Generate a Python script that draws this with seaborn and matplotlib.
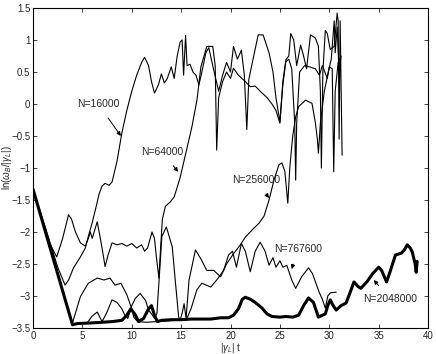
import pandas as pd
import numpy as np
import matplotlib
matplotlib.use("Agg")
import matplotlib.pyplot as plt
import seaborn as sns

# traced values, |gamma_L| t  vs  ln(omega_B/|gamma_L|)
t_16k = [0, 1.5, 2.5, 3.25, 3.6, 4.1, 4.8, 5.3, 5.6, 6.0, 6.4, 6.7, 7.0, 7.3, 7.7, 8.0, 8.5, 9.0, 9.5, 10.0,
         10.5, 11.0, 11.3, 11.7, 12.0, 12.3, 12.7, 13.0, 13.3, 13.6, 14.0, 14.3, 14.6, 14.9, 15.1, 15.25, 15.45,
         15.6, 15.9, 16.2, 16.5, 16.8, 17.1, 17.5, 17.8, 18.2, 18.5, 18.8, 19.2, 19.6, 20.0, 20.3, 20.7, 21.1,
         21.4, 21.65, 21.85, 22.2, 22.8, 23.3, 23.9, 24.3, 24.6, 25.0, 25.3, 25.6, 25.9, 26.1, 26.4, 26.7, 27.1,
         27.4, 27.7, 28.1, 28.6, 28.9, 29.1, 29.2, 29.35, 29.6, 29.8, 30.1, 30.5, 30.8, 30.9, 31.0, 31.1, 31.3]
v_16k = [-1.33, -2.05, -2.55, -2.83, -2.75, -2.56, -2.39, -2.25, -2.07, -1.85, -1.6, -1.4, -1.28, -1.24, -1.27,
         -1.22, -0.9, -0.45, -0.1, 0.2, 0.45, 0.65, 0.73, 0.6, 0.35, 0.17, 0.3, 0.47, 0.33, 0.4, 0.58, 0.4, 0.75,
         0.97, 1.0, 0.45, 1.07, 0.6, 0.62, 0.5, 0.45, 0.3, 0.5, 0.8, 0.88, 0.6, 0.4, 0.2, 0.45, 0.65, 0.5, 0.9,
         0.7, 0.84, 0.45, -0.4, 0.38, 0.64, 1.08, 1.08, 0.8, 0.5, 0.1, -0.28, 0.35, 0.69, 0.75, 1.1, 1.0, 0.6,
         0.92, 0.75, 0.55, 1.08, 1.03, 0.9, 0.2, -1.0, 0.5, 1.15, 1.1, 0.85, 0.9, 1.42, 1.3, -0.55, 1.3, -0.8]

t_64k = [0, 1.5, 2.4, 3.0, 3.6, 3.9, 4.3, 4.8, 5.3, 5.6, 5.8, 6.0, 6.5, 6.8, 7.1, 7.3, 7.6, 8.0, 8.5, 9.0,
         9.5, 10.0, 10.5, 11.0, 11.3, 11.6, 12.05, 12.3, 12.5, 12.75, 12.9, 13.1, 13.4, 13.9, 14.3, 14.9, 15.5,
         16.1, 16.6, 17.0, 17.6, 18.2, 18.45, 18.6, 18.8, 19.2, 19.6, 20.0, 20.3, 20.8, 21.5, 22.0, 22.5, 23.0,
         23.7, 24.2, 24.6, 25.0, 25.3, 25.6, 25.9, 26.2, 26.5, 26.6, 26.7, 27.0, 27.5, 28.0, 28.6, 29.0, 29.3,
         29.8, 30.0, 30.3, 30.45, 30.6, 30.9, 31.1]
v_64k = [-1.33, -2.12, -2.39, -2.1, -1.73, -1.8, -2.0, -2.17, -2.22, -2.1, -2.0, -2.1, -1.84, -2.08, -2.35,
         -2.54, -2.36, -2.17, -2.2, -2.18, -2.22, -2.18, -2.25, -2.2, -2.3, -2.25, -2.0, -2.1, -2.4, -2.72, -2.3,
         -1.8, -1.6, -1.53, -1.45, -1.15, -0.75, -0.35, 0.06, 0.58, 0.9, 0.9, 0.6, -0.72, 0.1, 0.35, 0.5, 0.4,
         0.56, 0.45, 0.35, 0.27, 0.28, 0.2, 0.1, 0.0, -0.1, -0.3, 0.3, 0.66, 0.7, 0.55, -0.3, -1.19, -0.3, 0.5,
         0.6, 0.58, 0.55, 0.45, 0.6, 0.4, 0.58, 0.55, -1.06, 0.2, 0.65, 0.71]

t_256k = [0, 2.0, 4.0, 5.5, 5.95, 6.5, 7.0, 7.5, 8.0, 8.5, 9.0, 9.3, 9.6, 10.0, 10.35, 10.85, 11.4, 11.7, 12.1,
          12.3, 12.55, 13.05, 13.5, 14.1, 14.4, 14.75, 14.9, 15.1, 15.3, 15.5, 15.8, 16.45, 17.0, 17.6, 18.3,
          19.0, 19.6, 20.3, 21.0, 21.5, 22.3, 22.9, 23.4, 23.9, 24.4, 24.9, 25.2, 25.5, 25.8, 26.0, 26.3, 26.6,
          26.9, 27.6, 28.25, 28.6, 28.8, 28.9, 29.1, 29.5, 29.9, 30.2, 30.5, 30.6, 30.8, 31.0, 31.2]
v_256k = [-1.33, -2.39, -3.44, -3.42, -3.32, -3.25, -3.4, -3.25, -3.06, -3.1, -3.2, -3.3, -3.35, -3.15, -3.04,
          -2.96, -3.07, -3.22, -3.3, -3.35, -3.27, -2.07, -1.92, -2.23, -2.75, -3.33, -3.38, -3.27, -3.12, -3.35,
          -2.75, -2.28, -2.42, -2.6, -2.6, -2.7, -2.5, -2.34, -2.2, -2.08, -1.95, -1.86, -1.75, -1.5, -1.19,
          -0.95, -0.92, -1.05, -1.55, -1.0, -0.5, -0.2, -0.04, 0.06, 0.01, -0.3, -0.56, -0.77, -0.3, 0.2, 0.5,
          0.7, 1.3, 0.8, 1.2, 0.5, 0.75]

t_767k = [0, 2.0, 4.0, 4.8, 5.6, 6.5, 7.2, 7.8, 8.3, 8.9, 9.5, 10.0, 10.2, 10.6, 11.5, 12.5, 13.5, 14.5, 15.5,
          16.0, 16.6, 17.1, 18.0, 18.6, 19.3, 19.8, 20.2, 20.6, 21.1, 21.5, 22.0, 22.5, 23.0, 23.5, 23.9, 24.3,
          24.6, 25.0, 25.3, 25.7, 26.2, 26.6, 27.2, 27.9, 28.3, 28.6, 29.0, 29.3, 29.6, 29.85, 30.1, 30.7]
v_767k = [-1.33, -2.39, -3.42, -3.01, -2.8, -2.72, -2.75, -2.72, -2.83, -2.8, -2.98, -3.2, -3.33, -3.4, -3.41,
          -3.4, -3.39, -3.38, -3.38, -3.2, -2.9, -2.8, -2.86, -2.75, -2.6, -2.36, -2.3, -2.55, -2.18, -2.3,
          -2.62, -2.3, -2.16, -2.3, -2.52, -2.4, -2.55, -2.45, -2.55, -2.52, -2.75, -2.88, -2.7, -2.56, -2.65,
          -2.78, -2.95, -3.05, -3.19, -3.0, -2.95, -2.94]

t_2048k = [0, 2.0, 4.0, 4.5, 6.0, 7.0, 8.0, 9.0, 9.5, 9.9, 10.3, 10.7, 11.2, 11.7, 12.0, 12.3, 12.6, 13.0, 14.0,
           15.0, 16.0, 17.0, 18.0, 19.0, 19.8, 20.3, 20.8, 21.2, 21.5, 22.0, 22.5, 23.2, 23.7, 24.2, 25.0, 25.6,
           26.3, 26.9, 27.4, 27.9, 28.4, 28.9, 29.3, 29.6, 29.85, 30.1, 30.4, 30.7, 31.2, 31.7, 32.1, 32.5, 32.9,
           33.2, 33.8, 34.4, 35.0, 35.3, 35.8, 36.2, 36.7, 37.3, 37.6, 37.9, 38.2, 38.4, 38.7, 38.8, 38.9]
v_2048k = [-1.33, -2.39, -3.45, -3.43, -3.42, -3.41, -3.4, -3.38, -3.3, -3.2, -3.28, -3.4, -3.35, -3.2, -3.15,
           -3.3, -3.4, -3.38, -3.37, -3.37, -3.36, -3.36, -3.36, -3.34, -3.34, -3.3, -3.2, -3.05, -3.02, -3.05,
           -3.1, -3.19, -3.28, -3.32, -3.33, -3.32, -3.33, -3.3, -3.15, -3.03, -3.1, -3.33, -3.3, -3.28, -3.15,
           -3.06, -3.15, -3.22, -3.15, -3.11, -2.95, -2.78, -2.85, -2.88, -2.78, -2.65, -2.55, -2.6, -2.78, -2.6,
           -2.36, -2.33, -2.28, -2.2, -2.25, -2.31, -2.5, -2.63, -2.46]

curves = [
    ("N=16000", t_16k, v_16k, 0.8),
    ("N=64000", t_64k, v_64k, 0.8),
    ("N=256000", t_256k, v_256k, 0.8),
    ("N=767600", t_767k, v_767k, 0.8),
    ("N=2048000", t_2048k, v_2048k, 2.2),
]

# label text position, arrow tip (data coords)
labels = {
    "N=16000": ((6.6, 0.0), (8.9, -0.5)),
    "N=64000": ((13.1, -0.75), (14.7, -1.06)),
    "N=256000": ((22.6, -1.19), (23.9, -1.47)),
    "N=767600": ((26.8, -2.27), (26.2, -2.58)),
    "N=2048000": ((36.2, -3.05), (34.5, -2.75)),
}

sns.set_style("ticks")
plt.rcParams["font.family"] = ["Liberation Sans", "DejaVu Sans"]
plt.rcParams["mathtext.fontset"] = "custom"
plt.rcParams["mathtext.rm"] = "Liberation Sans"
plt.rcParams["mathtext.it"] = "Liberation Sans:italic"

fig = plt.figure(figsize=(4.36, 3.54), dpi=100)
ax = fig.add_axes([0.0757, 0.0734, 0.906, 0.904])

for name, t, v, lw in curves:
    df = pd.DataFrame({"t": t, "v": v})
    sns.lineplot(data=df, x="t", y="v", ax=ax, color="black", linewidth=lw, sort=False, estimator=None)

for name, (txt, tip) in labels.items():
    ax.annotate(name, xy=tip, xytext=txt, fontsize=7.5, ha="center", va="center",
                arrowprops=dict(arrowstyle="-|>", color="black", lw=0.7, mutation_scale=6,
                                shrinkA=5, shrinkB=0))

ax.set_xlim(0, 40)
ax.set_ylim(-3.5, 1.5)
ax.set_xticks(np.arange(0, 41, 5))
ax.set_yticks(np.arange(-3.5, 1.51, 0.5))
ax.set_yticklabels(["\u22123.5", "\u22123", "\u22122.5", "\u22122", "\u22121.5", "\u22121", "\u22120.5",
                    "0", "0.5", "1", "1.5"])
ax.tick_params(direction="in", length=3, width=0.6, labelsize=7, top=True, right=True, pad=2)
for s in ax.spines.values():
    s.set_linewidth(0.8)
    s.set_color("black")

ax.set_xlabel(r"|$\gamma_L$| t", fontsize=7, labelpad=0)
ax.set_ylabel(r"ln($\omega_B$/|$\gamma_L$|)", fontsize=7)
ax.yaxis.set_label_coords(-0.047, 0.5)

fig.savefig("out.png", dpi=100)
